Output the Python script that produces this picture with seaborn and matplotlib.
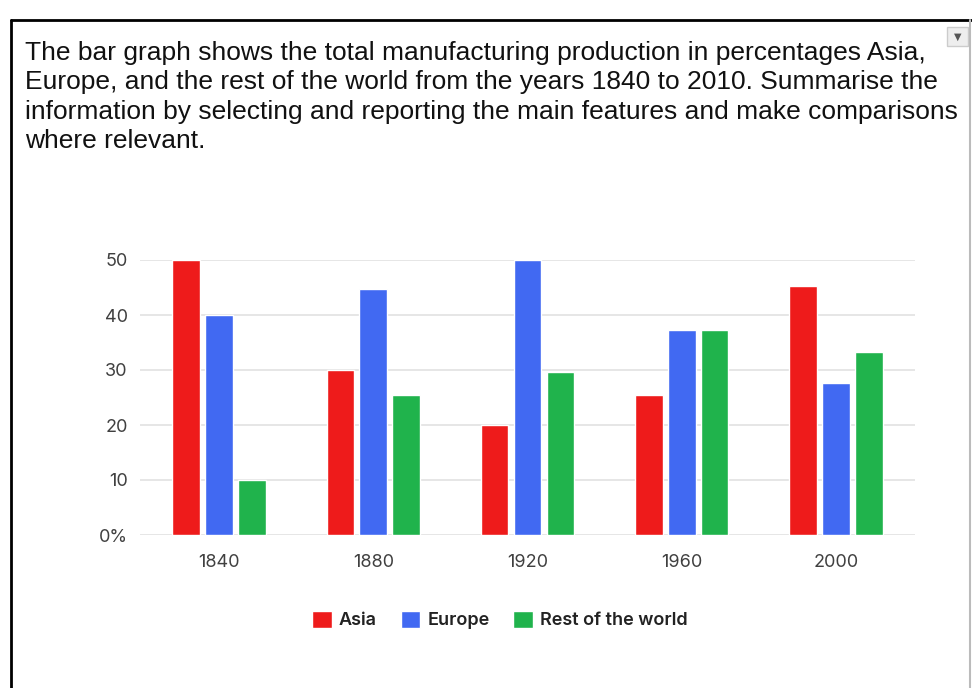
import seaborn as sns
import matplotlib.pyplot as plt
import pandas as pd
from matplotlib.patches import Rectangle
from matplotlib.lines import Line2D

# data
years = ["1840", "1880", "1920", "1960", "2000"]
regions = ["Asia", "Europe", "Rest of the world"]
asia = [50, 30, 20, 25.4, 45.2]
europe = [40, 44.8, 50, 37.3, 27.6]
rest = [10, 25.4, 29.7, 37.3, 33.2]
y_ticks = [0, 10, 20, 30, 40, 50]
y_tick_labels = ["0%", "10", "20", "30", "40", "50"]
colors = ["#ee1b1b", "#4169f2", "#20b34c"]

question = [
    "The bar graph shows the total manufacturing production in percentages Asia,",
    "Europe, and the rest of the world from the years 1840 to 2010. Summarise the",
    "information by selecting and reporting the main features and make comparisons",
    "where relevant.",
]

df = pd.DataFrame({
    "year": years * 3,
    "region": [r for r in regions for _ in years],
    "value": asia + europe + rest,
})

sns.set_theme(style="white")
plt.rcParams["font.family"] = ["Inter", "DejaVu Sans"]

W, H = 972, 688
fig = plt.figure(figsize=(W / 100, H / 100), dpi=100)
ax = fig.add_axes([140 / W, 1 - 535 / H, (915 - 140) / W, (535 - 260) / H])

sns.barplot(data=df, x="year", y="value", hue="region", hue_order=regions,
            order=years, palette=colors, width=0.64, gap=0.16,
            saturation=1, ax=ax, zorder=3)

ax.set_xlim(-0.513, 4.513)
ax.set_ylim(0, 50)
ax.set_yticks(y_ticks)
ax.set_yticklabels(y_tick_labels)
ax.yaxis.grid(True, color="#e2e2e2", linewidth=1.2, zorder=0)
ax.set_axisbelow(True)
ax.set(xlabel="", ylabel="")
sns.despine(ax=ax, left=True, bottom=True)
ax.tick_params(axis="both", length=0, labelsize=13, colors="#404040")
ax.tick_params(axis="y", pad=9)
ax.tick_params(axis="x", pad=14)

handles, labels = ax.get_legend_handles_labels()
ax.legend(handles, labels, loc="center", bbox_to_anchor=(500 / W, 1 - 620 / H),
          bbox_transform=fig.transFigure, ncol=3, frameon=False,
          handlelength=1.1, handleheight=1.1, handletextpad=0.4,
          columnspacing=1.3, prop={"size": 13, "weight": "semibold"},
          labelcolor="#222222")

# question text above the chart
for i, line in enumerate(question):
    fig.text(25 / W, 1 - (60 + 29.5 * i) / H, line, fontsize=19.0,
             family=["Liberation Sans", "DejaVu Sans"], va="baseline",
             ha="left", color="#111111")

# page border and the little dropdown box
fig.add_artist(Line2D([11 / W, 1], [1 - 20 / H, 1 - 20 / H], color="black",
                      linewidth=2, transform=fig.transFigure))
fig.add_artist(Line2D([11 / W, 11 / W], [0, 1 - 20 / H], color="black",
                      linewidth=2, transform=fig.transFigure))
fig.add_artist(Line2D([970 / W, 970 / W], [0, 1 - 20 / H], color="#bbbbbb",
                      linewidth=1.5, transform=fig.transFigure))
fig.add_artist(Rectangle((947 / W, 1 - 46 / H), 21 / W, 19 / H,
                         facecolor="#eeeeee", edgecolor="#cccccc",
                         transform=fig.transFigure))
fig.text(957.5 / W, 1 - 36.5 / H, "▼", fontsize=7, color="#555555",
         ha="center", va="center", family="DejaVu Sans")

plt.savefig("out.png", dpi=100)
